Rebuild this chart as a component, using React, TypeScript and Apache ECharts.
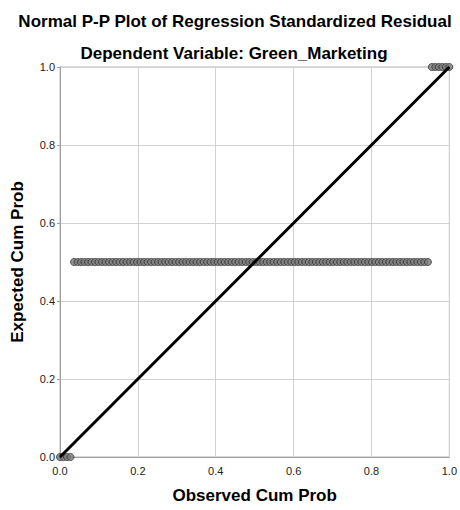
import React, { useEffect, useRef } from "react";
import * as echarts from "echarts";

const xTickLabels = ["0.0", "0.2", "0.4", "0.6", "0.8", "1.0"];
const lowObserved = [0.0, 0.009, 0.018, 0.027];
const lowExpected = [0.0, 0.0, 0.0, 0.0];
const midObserved = [
  0.036, 0.045, 0.054, 0.063, 0.072, 0.081, 0.09, 0.099, 0.108, 0.117, 0.126, 0.135, 0.144, 0.153,
  0.162, 0.171, 0.18, 0.189, 0.198, 0.207, 0.216, 0.225, 0.234, 0.243, 0.252, 0.261, 0.27, 0.279,
  0.288, 0.297, 0.306, 0.315, 0.324, 0.333, 0.342, 0.351, 0.36, 0.369, 0.378, 0.387, 0.396, 0.405,
  0.414, 0.423, 0.432, 0.441, 0.45, 0.459, 0.468, 0.477, 0.486, 0.495, 0.504, 0.513, 0.522, 0.531,
  0.54, 0.549, 0.558, 0.567, 0.576, 0.585, 0.594, 0.603, 0.612, 0.621, 0.63, 0.639, 0.648, 0.657,
  0.666, 0.675, 0.684, 0.693, 0.702, 0.711, 0.72, 0.729, 0.738, 0.747, 0.756, 0.765, 0.774, 0.783,
  0.792, 0.801, 0.81, 0.819, 0.828, 0.837, 0.846, 0.855, 0.864, 0.873, 0.882, 0.891, 0.9, 0.909,
  0.918, 0.927, 0.936, 0.945,
];
const midExpected = 0.5;
const highObserved = [0.955, 0.964, 0.973, 0.982, 0.991, 1.0];
const highExpected = [1.0, 1.0, 1.0, 1.0, 1.0, 1.0];
const diagonal = [
  [0, 0],
  [1, 1],
];

export default function App() {
  const ref = useRef<HTMLDivElement>(null);
  useEffect(() => {
    if (!ref.current) return;
    const chart = echarts.init(ref.current, undefined, { renderer: "svg" });
    const points: number[][] = [];
    lowObserved.forEach((x, i) => points.push([x, lowExpected[i]]));
    midObserved.forEach((x) => points.push([x, midExpected]));
    highObserved.forEach((x, i) => points.push([x, highExpected[i]]));
    const font = "'Liberation Sans', Arial, sans-serif";
    chart.setOption({
      animation: false,
      backgroundColor: "#ffffff",
      title: [
        {
          text: "Normal P-P Plot of Regression Standardized Residual",
          left: 230,
          top: 8,
          textAlign: "center",
          textStyle: { fontFamily: font, fontSize: 17, fontWeight: "bold", color: "#000" },
        },
        {
          text: "Dependent Variable: Green_Marketing",
          left: 229,
          top: 40,
          textAlign: "center",
          textStyle: { fontFamily: font, fontSize: 17, fontWeight: "bold", color: "#000" },
        },
      ],
      grid: { left: 60, right: 7, top: 67, bottom: 53, show: true, borderColor: "#b4b4b4", borderWidth: 1 },
      xAxis: {
        type: "value",
        min: 0,
        max: 1,
        interval: 0.2,
        name: "Observed Cum Prob",
        nameLocation: "middle",
        nameGap: 30,
        nameTextStyle: { fontFamily: font, fontSize: 17, fontWeight: "bold", color: "#000" },
        axisLine: { show: true, lineStyle: { color: "#a0a0a0" } },
        axisTick: { show: false },
        axisLabel: {
          fontFamily: font,
          fontSize: 11,
          color: "#222",
          margin: 8,
          formatter: (v: number) => xTickLabels[Math.round(v * 5)] ?? "",
        },
        splitLine: { show: true, lineStyle: { color: "#d2d2d2", width: 1 } },
      },
      yAxis: {
        type: "value",
        min: 0,
        max: 1,
        interval: 0.2,
        name: "Expected Cum Prob",
        nameLocation: "middle",
        nameGap: 34,
        nameTextStyle: { fontFamily: font, fontSize: 17, fontWeight: "bold", color: "#000" },
        axisLine: { show: true, lineStyle: { color: "#a0a0a0" } },
        axisTick: { show: true, length: 3, lineStyle: { color: "#a0a0a0" } },
        axisLabel: {
          fontFamily: font,
          fontSize: 11,
          color: "#222",
          margin: 5,
          formatter: (v: number) => v.toFixed(1),
        },
        splitLine: { show: true, lineStyle: { color: "#d2d2d2", width: 1 } },
      },
      series: [
        {
          type: "scatter",
          data: points,
          symbol: "circle",
          symbolSize: 7,
          itemStyle: { color: "#7a7a7a", borderColor: "#333333", borderWidth: 1 },
          z: 2,
        },
        {
          type: "line",
          data: diagonal,
          symbol: "none",
          lineStyle: { color: "#000", width: 3 },
          z: 3,
        },
      ],
    });
    return () => chart.dispose();
  }, []);
  return <div ref={ref} style={{ width: 460, height: 510, position: "absolute", left: 0, top: 0 }} />;
}
